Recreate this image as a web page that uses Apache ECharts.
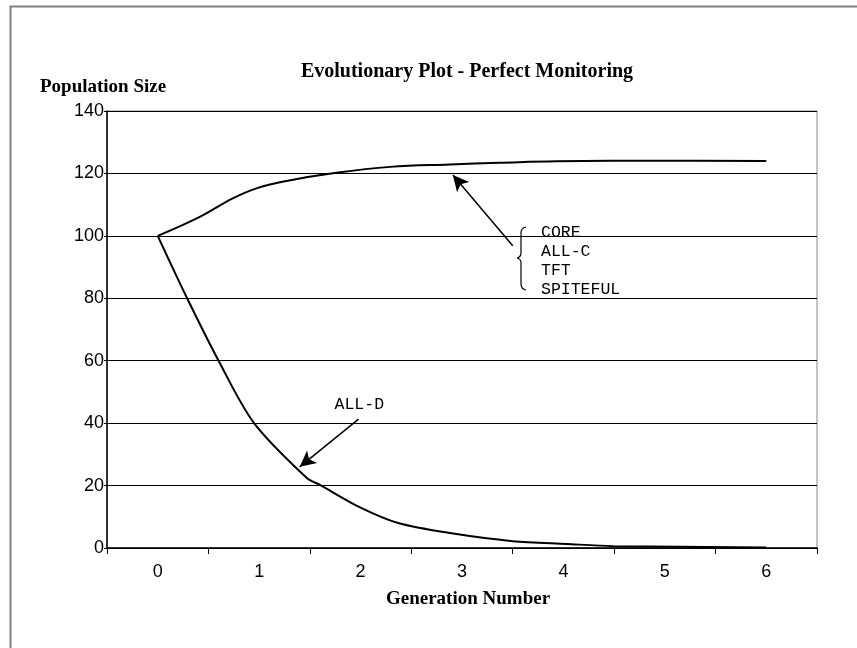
<!DOCTYPE html>
<html><head><meta charset="utf-8">
<script src="https://cdn.jsdelivr.net/npm/echarts@6/dist/echarts.min.js"></script>
<style>html,body{margin:0;padding:0;background:#fff}#c{width:857px;height:648px}</style>
</head><body><div id="c"></div>
<script>
var categories = ['0','1','2','3','4','5','6'];
var yTicks = [0,20,40,60,80,100,120,140];
var upperX = [0, 0.41, 0.74, 0.98, 1.27, 1.76, 2.29, 2.88, 3.37, 3.93, 5, 6];
var upperY = [100, 106, 112, 115.3, 117.6, 120.2, 122.1, 122.9, 123.4, 123.9, 124.1, 124.0];
var lowerX = [0, 0.29, 0.60, 0.95, 1.47, 1.60, 1.99, 2.37, 2.88, 3.50, 4.03, 4.49, 6];
var lowerY = [100, 80, 60, 40, 22.4, 20.2, 13.1, 8, 4.8, 2.2, 1.3, 0.6, 0.2];
var upperLabels = ['CORE','ALL-C','TFT','SPITEFUL'];
var lowerLabel = 'ALL-D';
// arrow annotations in data coords [tail, tip]
var upperArrow = [[3.50, 96.8],[2.91, 119.5]];
var lowerArrow = [[1.98, 41.3],[1.40, 26.0]];

function pairs(xs, ys){ return xs.map(function(x,i){return [x, ys[i]];}); }
var serif = '"Liberation Serif","Times New Roman",serif';
var sans = '"Liberation Sans",Arial,sans-serif';
var monoFont = "16.5px 'Liberation Mono','Courier New',monospace";

var chart = echarts.init(document.getElementById('c'), null, {renderer:'canvas'});
function arrowLine(a){
  return {
    data:[[{coord:a[0]},{coord:a[1]}]],
    symbol:['none','arrow'], symbolSize:[12,16],
    lineStyle:{color:'#000', width:1.5, type:'solid'},
    label:{show:false}, silent:true, animation:false
  };
}
chart.setOption({
  animation:false,
  title:{
    text:'Evolutionary Plot - Perfect Monitoring',
    left:462, top:57, textAlign:'center',
    textStyle:{fontFamily:serif, fontWeight:'bold', fontSize:20, color:'#000'}
  },
  grid:{left:107, right:40, top:111, bottom:100, show:true, borderColor:'#888', borderWidth:1,
        containLabel:false, outerBoundsMode:'none'},
  xAxis:[{
    type:'category', data:categories, boundaryGap:true,
    name:'Generation Number', nameLocation:'middle', nameGap:42,
    nameTextStyle:{fontFamily:serif, fontWeight:'bold', fontSize:19, color:'#000', padding:[0,0,0,12]},
    axisLine:{show:true, onZero:false, lineStyle:{color:'#000', width:1.5}},
    axisTick:{show:true, length:6, lineStyle:{color:'#000'}},
    axisLabel:{fontFamily:sans, fontSize:18, color:'#000', margin:15},
    splitLine:{show:false}
  },{
    type:'value', min:-0.5, max:6.5, show:false
  }],
  yAxis:{
    type:'value', min:0, max:140, interval:20,
    axisLine:{show:true, onZero:false, lineStyle:{color:'#000', width:1.5}},
    axisTick:{show:true, length:3, lineStyle:{color:'#000'}},
    axisLabel:{fontFamily:sans, fontSize:18, color:'#000', margin:3},
    splitLine:{show:true, lineStyle:{color:'#000', width:1}}
  },
  series:[{
    type:'line', xAxisIndex:1, data:pairs(upperX, upperY), smooth:0.4,
    showSymbol:false, symbol:'none', lineStyle:{color:'#000', width:2}, markLine:arrowLine(upperArrow)
  },{
    type:'line', xAxisIndex:1, data:pairs(lowerX, lowerY), smooth:0.3,
    showSymbol:false, symbol:'none', lineStyle:{color:'#000', width:2}, markLine:arrowLine(lowerArrow)
  }]
});

// annotation texts positioned via the chart's own scale
var tail = chart.convertToPixel({xAxisIndex:1, yAxisIndex:0}, upperArrow[0]);
var lt = chart.convertToPixel({xAxisIndex:1, yAxisIndex:0}, lowerArrow[0]);
var bx = Math.round(tail[0] + 7), by = Math.round(tail[1] - 20);
var g = [{type:'rect', shape:{x:10.5, y:6.5, width:900, height:800}, style:{fill:null, stroke:'#808080', lineWidth:2}, silent:true}];
g.push({type:'text', x:40, y:78, style:{text:'Population Size', font:"bold 19px 'Liberation Serif','Times New Roman',serif", fill:'#000'}});
upperLabels.forEach(function(t,i){
  g.push({type:'text', x:bx+21, y:by + i*19 - 2, style:{text:t, font:monoFont, fill:'#000'}});
});
var bs = {fill:null, stroke:'#000', lineWidth:1.2};
var x1 = bx+1;
g.push({type:'bezierCurve', shape:{x1:bx+6, y1:by+1, x2:x1, y2:by+7, cpx1:x1, cpy1:by+2}, style:bs});
g.push({type:'line', shape:{x1:x1, y1:by+7, x2:x1, y2:by+27}, style:bs});
g.push({type:'bezierCurve', shape:{x1:x1, y1:by+27, x2:bx-3, y2:by+32, cpx1:x1, cpy1:by+31}, style:bs});
g.push({type:'bezierCurve', shape:{x1:bx-3, y1:by+32, x2:x1, y2:by+37, cpx1:x1, cpy1:by+33}, style:bs});
g.push({type:'line', shape:{x1:x1, y1:by+37, x2:x1, y2:by+58}, style:bs});
g.push({type:'bezierCurve', shape:{x1:x1, y1:by+58, x2:bx+6, y2:by+64, cpx1:x1, cpy1:by+63}, style:bs});
g.push({type:'text', x:lt[0]-24, y:lt[1]-23, style:{text:lowerLabel, font:monoFont, fill:'#000'}});
chart.setOption({graphic:g});
</script>
</body></html>
